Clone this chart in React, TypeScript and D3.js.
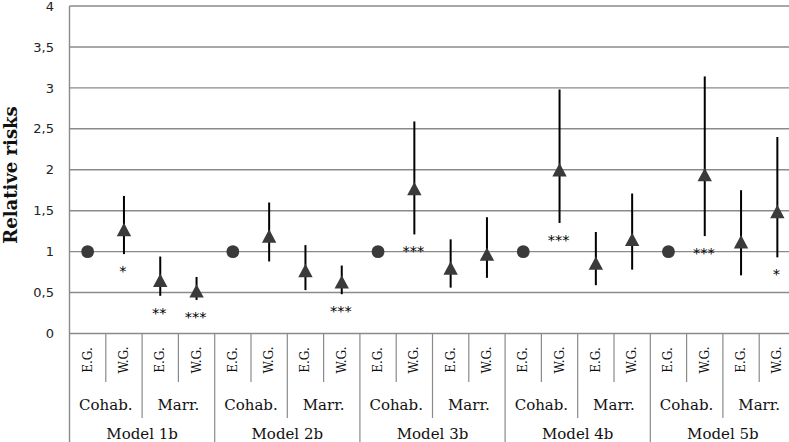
import React from "react";
import * as d3 from "d3";

const models = ["Model 1b", "Model 2b", "Model 3b", "Model 4b", "Model 5b"];
const unions = ["Cohab.", "Marr."];
const groups = ["E.G.", "W.G."];

// relative risks per category (model x union x group)
const rr = [1, 1.27, 0.65, 0.52, 1, 1.19, 0.77, 0.63, 1, 1.77, 0.8, 0.97, 1, 2.0, 0.86, 1.15, 1, 1.94, 1.12, 1.49];
const lower = [null, 0.97, 0.46, 0.41, null, 0.88, 0.53, 0.48, null, 1.21, 0.56, 0.68, null, 1.35, 0.59, 0.78, null, 1.19, 0.71, 0.93];
const upper = [null, 1.68, 0.94, 0.69, null, 1.6, 1.08, 0.83, null, 2.59, 1.15, 1.42, null, 2.98, 1.24, 1.71, null, 3.14, 1.75, 2.4];
const sig = ["", "*", "**", "***", "", "", "", "***", "", "***", "", "", "", "***", "", "", "", "***", "", "*"];
const yTicks = [0, 0.5, 1, 1.5, 2, 2.5, 3, 3.5, 4];

export default function App() {
  const W = 789, H = 442;
  const left = 69.5, step = 36.3;
  const cats: { m: string; u: string; g: string; i: number }[] = [];
  models.forEach((m) => unions.forEach((u) => groups.forEach((g) => cats.push({ m, u, g, i: cats.length }))));
  const x = d3.scaleBand<number>().domain(cats.map((c) => c.i)).range([left, left + step * cats.length]).padding(0);
  const y = d3.scaleLinear().domain([0, 4]).range([333.5, 6]);
  const cx = (i: number) => (x(i) as number) + x.bandwidth() / 2;
  const gridColor = "#8a8a8a";
  const fmt = (v: number) => String(v).replace(".", ",");
  const tri = d3.line()([[0, -6.7], [7.2, 6.7], [-7.2, 6.7]]) + "Z";
  const bottom = y(0);

  return (
    <svg width={W} height={H} style={{ position: "absolute", left: 0, top: 0, background: "#fff" }}>
      <rect width={W} height={H} fill="#fff" />
      {yTicks.map((t) => (
        <g key={t}>
          <line x1={left} x2={W} y1={y(t)} y2={y(t)} stroke={gridColor} strokeWidth={1.4} />
          <text x={54} y={y(t)} dy="0.36em" textAnchor="end" fontFamily="DejaVu Sans" fontSize={13} fill="#222">
            {fmt(t)}
          </text>
        </g>
      ))}
      <line x1={left} x2={left} y1={y(4)} y2={H} stroke={gridColor} strokeWidth={1.4} />
      {cats.map((c) => {
        const xb = (x(c.i) as number) + x.bandwidth();
        const isModelEnd = c.i % 4 === 3;
        const isUnionEnd = c.i % 2 === 1;
        const y2 = isModelEnd ? H : isUnionEnd ? 418 : 382;
        return <line key={"sep" + c.i} x1={xb} x2={xb} y1={bottom} y2={y2} stroke={gridColor} strokeWidth={1.2} />;
      })}
      {cats.map((c) => (
        <text
          key={"g" + c.i}
          transform={`translate(${cx(c.i) + 4},${360}) rotate(-90)`}
          textAnchor="middle"
          fontFamily="DejaVu Serif"
          fontSize={12}
          fill="#111"
        >
          {c.g}
        </text>
      ))}
      {models.map((m, mi) =>
        unions.map((u, ui) => {
          const i0 = mi * 4 + ui * 2;
          const xc = (x(i0) as number) + x.bandwidth();
          return (
            <text key={m + u} x={xc} y={410} textAnchor="middle" fontFamily="DejaVu Serif" fontSize={15} fill="#111">
              {u}
            </text>
          );
        })
      )}
      {models.map((m, mi) => {
        const xc = (x(mi * 4) as number) + 2 * x.bandwidth();
        return (
          <text key={m} x={xc} y={439} textAnchor="middle" fontFamily="DejaVu Serif" fontSize={15} fill="#111">
            {m}
          </text>
        );
      })}
      <text
        transform={`translate(${17},${175}) rotate(-90)`}
        textAnchor="middle"
        fontFamily="DejaVu Serif"
        fontWeight="bold"
        fontSize={18}
        fill="#111"
      >
        Relative risks
      </text>
      {cats.map((c) =>
        lower[c.i] != null ? (
          <line
            key={"eb" + c.i}
            x1={cx(c.i)}
            x2={cx(c.i)}
            y1={y(lower[c.i] as number)}
            y2={y(upper[c.i] as number)}
            stroke="#000"
            strokeWidth={2}
          />
        ) : null
      )}
      {cats.map((c) =>
        lower[c.i] == null ? (
          <circle key={"m" + c.i} cx={cx(c.i)} cy={y(rr[c.i])} r={6.4} fill="#3a3a3a" />
        ) : (
          <path key={"m" + c.i} d={tri} transform={`translate(${cx(c.i)},${y(rr[c.i])})`} fill="#3a3a3a" />
        )
      )}
      {cats.map((c) =>
        sig[c.i] ? (
          <text
            key={"s" + c.i}
            x={cx(c.i) - 1}
            y={y((lower[c.i] as number) ?? rr[c.i]) + 22}
            textAnchor="middle"
            fontFamily="DejaVu Sans"
            fontSize={14.5}
            fill="#000"
          >
            {sig[c.i]}
          </text>
        ) : null
      )}
    </svg>
  );
}
